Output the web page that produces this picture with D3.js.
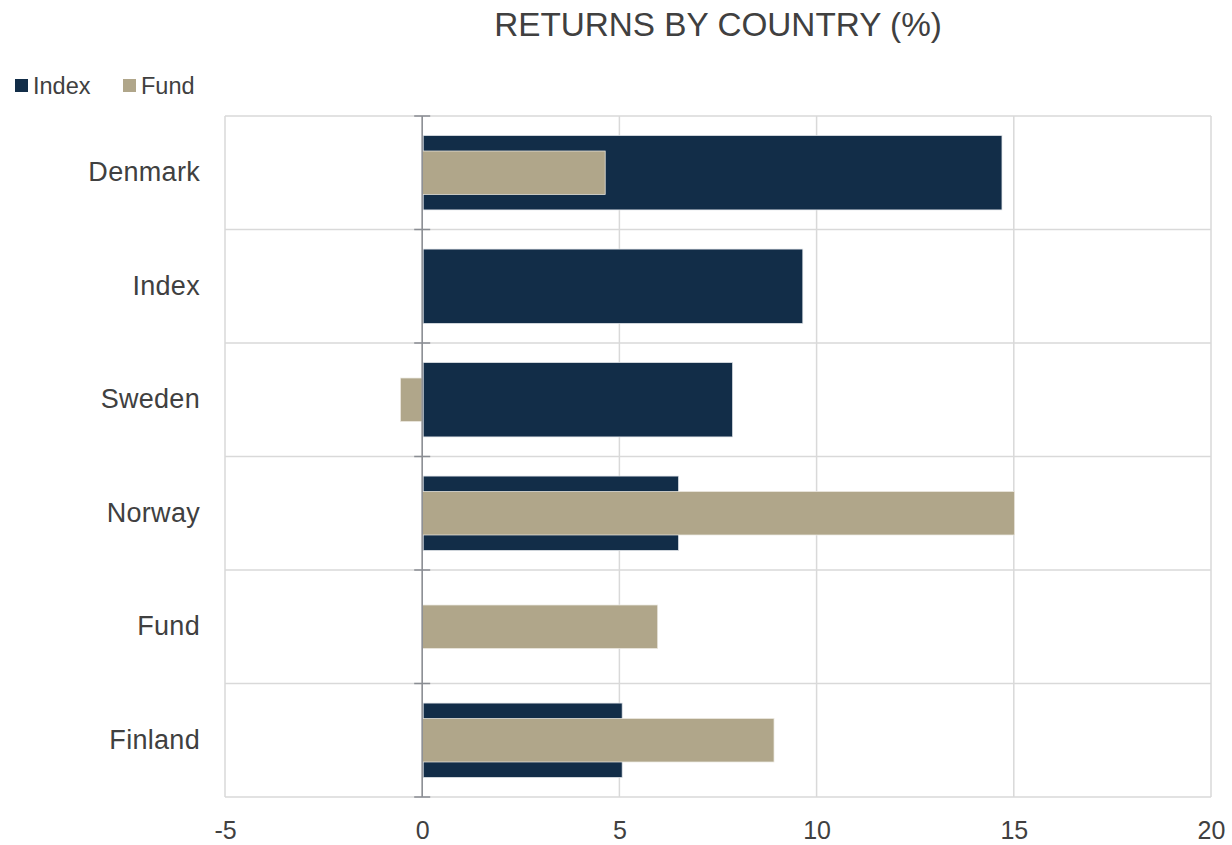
<!DOCTYPE html>
<html>
<head>
<meta charset="utf-8">
<script src="https://cdn.jsdelivr.net/npm/d3@7"></script>
<style>
  html, body { margin: 0; padding: 0; background: #ffffff; }
  svg { display: block; font-family: "Liberation Sans", Arial, sans-serif; }
</style>
</head>
<body>
<svg id="chart" width="1232" height="845"></svg>
<script>
const categories = ["Denmark", "Index", "Sweden", "Norway", "Fund", "Finland"];
const indexValues = [14.7, 9.65, 7.87, 6.5, null, 5.07];
const fundValues  = [4.64, null, -0.55, 15.02, 5.97, 8.92];
const xTicks = [-5, 0, 5, 10, 15, 20];
const xTickLabels = ["-5", "0", "5", "10", "15", "20"];
const seriesNames = ["Index", "Fund"];
const seriesColors = ["#122d48", "#b0a68a"];

const svg = d3.select("#chart");
const textColor = "#404040";
const gridColor = "#d9d9d9";

const x = d3.scaleLinear().domain([-5, 20]).range([225, 1211]);
const y = d3.scaleBand().domain(categories).range([116, 797]).paddingInner(0).paddingOuter(0);
const bw = y.bandwidth();

// Title
svg.append("text")
  .attr("x", 718).attr("y", 36)
  .attr("text-anchor", "middle")
  .attr("font-size", 33.3)
  .attr("fill", textColor)
  .text("RETURNS BY COUNTRY (%)");

// Legend
const legendX = [15, 123];
seriesNames.forEach((name, i) => {
  svg.append("rect")
    .attr("x", legendX[i]).attr("y", 79)
    .attr("width", 13).attr("height", 13)
    .attr("fill", seriesColors[i]);
  svg.append("text")
    .attr("x", legendX[i] + 18).attr("y", 93.5)
    .attr("font-size", 23.5)
    .attr("fill", textColor)
    .text(name);
});

// Vertical gridlines
svg.append("g").selectAll("line").data(xTicks).join("line")
  .attr("x1", d => x(d)).attr("x2", d => x(d))
  .attr("y1", 116).attr("y2", 797)
  .attr("stroke", gridColor).attr("stroke-width", 1.5);

// Horizontal gridlines at category boundaries
const bounds = categories.map(c => y(c)).concat([y(categories[categories.length - 1]) + bw]);
svg.append("g").selectAll("line").data(bounds).join("line")
  .attr("x1", x(-5)).attr("x2", x(20))
  .attr("y1", d => d).attr("y2", d => d)
  .attr("stroke", gridColor).attr("stroke-width", 1.5);

// Bars
const idxData = categories.map((c, i) => ({ c, v: indexValues[i] })).filter(d => d.v !== null);
const fundData = categories.map((c, i) => ({ c, v: fundValues[i] })).filter(d => d.v !== null);

const idxH = bw * 0.655;
const fundH = bw * 0.383;

svg.append("g").selectAll("rect").data(idxData).join("rect")
  .attr("x", d => Math.min(x(0), x(d.v)) + 1)
  .attr("width", d => Math.abs(x(d.v) - x(0)) - 1)
  .attr("y", d => y(d.c) + (bw - idxH) / 2)
  .attr("height", idxH)
  .attr("fill", seriesColors[0])
  .attr("stroke", "#dfe3e8").attr("stroke-width", 0.75);

svg.append("g").selectAll("rect").data(fundData).join("rect")
  .attr("x", d => Math.min(x(0), x(d.v)))
  .attr("width", d => Math.abs(x(d.v) - x(0)))
  .attr("y", d => y(d.c) + (bw - fundH) / 2)
  .attr("height", fundH)
  .attr("fill", seriesColors[1])
  .attr("stroke", "#ebe8e0").attr("stroke-width", 0.75);

// Zero axis line with ticks at category boundaries
svg.append("line")
  .attr("x1", x(0)).attr("x2", x(0))
  .attr("y1", 116).attr("y2", 797)
  .attr("stroke", "#8a8d93").attr("stroke-width", 1.5);
svg.append("g").selectAll("line").data(bounds).join("line")
  .attr("x1", x(0) - 8).attr("x2", x(0) + 8)
  .attr("y1", d => d).attr("y2", d => d)
  .attr("stroke", "#8a8d93").attr("stroke-width", 1.5);

// X axis labels
const xAxis = svg.append("g")
  .attr("transform", "translate(0,797)")
  .call(d3.axisBottom(x).tickValues(xTicks).tickSize(0).tickPadding(24)
    .tickFormat((d, i) => xTickLabels[i]));
xAxis.select(".domain").remove();
xAxis.selectAll("text")
  .attr("font-size", 25)
  .attr("font-family", "'Liberation Sans', Arial, sans-serif")
  .attr("fill", textColor);

// Y axis labels
const yAxis = svg.append("g")
  .attr("transform", "translate(225,0)")
  .call(d3.axisLeft(y).tickSize(0).tickPadding(25));
yAxis.select(".domain").remove();
yAxis.selectAll("text")
  .attr("font-size", 27)
  .attr("letter-spacing", 0.3)
  .attr("font-family", "'Liberation Sans', Arial, sans-serif")
  .attr("fill", textColor);
</script>
</body>
</html>
